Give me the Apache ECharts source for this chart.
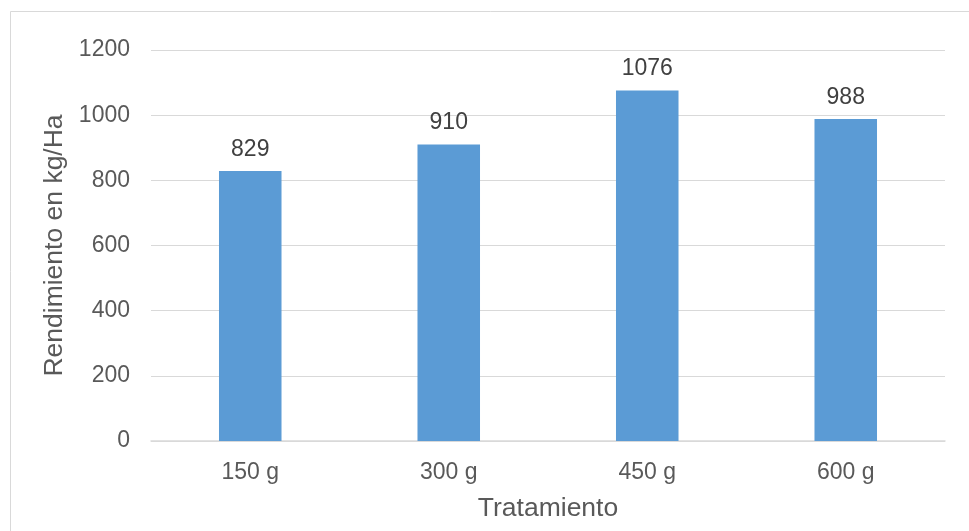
<!DOCTYPE html>
<html>
<head>
<meta charset="utf-8">
<script src="https://cdn.jsdelivr.net/npm/echarts@6/dist/echarts.min.js"></script>
<style>
  html, body { margin: 0; padding: 0; background: #fff; }
  #chart { width: 969px; height: 531px; }
</style>
</head>
<body>
<div id="chart"></div>
<script>
// Treatments and yield values (kg/Ha)
const categories = ['150 g', '300 g', '450 g', '600 g'];
const rendimiento = [829, 910, 1076, 988];
const yTicks = [0, 200, 400, 600, 800, 1000, 1200];

const FONT = '"Liberation Sans", Arial, sans-serif';

const chart = echarts.init(document.getElementById('chart'), null, { renderer: 'canvas' });

chart.setOption({
  backgroundColor: '#ffffff',
  animation: false,
  graphic: [{
    type: 'rect',
    shape: { x: 10.5, y: 11.5, width: 1000, height: 600 },
    style: { fill: 'none', stroke: '#d9d9d9', lineWidth: 1 },
    silent: true
  }],
  grid: { left: 151, right: 24, top: 50, bottom: 90, containLabel: false },
  xAxis: {
    type: 'category',
    data: categories,
    name: 'Tratamiento',
    nameLocation: 'middle',
    nameGap: 54,
    nameTextStyle: { fontFamily: FONT, fontSize: 26.5, color: '#595959' },
    axisLine: { show: true, lineStyle: { color: '#d9d9d9', width: 1.5 } },
    axisTick: { show: false },
    axisLabel: { fontFamily: FONT, fontSize: 23, color: '#595959', margin: 20 }
  },
  yAxis: {
    type: 'value',
    min: yTicks[0],
    max: yTicks[yTicks.length - 1],
    interval: 200,
    name: 'Rendimiento en kg/Ha',
    nameLocation: 'middle',
    nameGap: 81,
    nameTextStyle: { fontFamily: FONT, fontSize: 26.5, color: '#595959' },
    axisLine: { show: false },
    axisTick: { show: false },
    axisLabel: {
      fontFamily: FONT, fontSize: 23, color: '#595959', margin: 21,
      formatter: function (v) { return String(v); }
    },
    splitLine: { lineStyle: { color: '#d9d9d9', width: 1 } }
  },
  series: [{
    type: 'bar',
    data: rendimiento,
    barWidth: '31.5%',
    itemStyle: { color: '#5b9bd5' },
    label: {
      show: true,
      position: 'top',
      distance: 10,
      fontFamily: FONT,
      fontSize: 23,
      color: '#404040'
    }
  }]
});
</script>
</body>
</html>
